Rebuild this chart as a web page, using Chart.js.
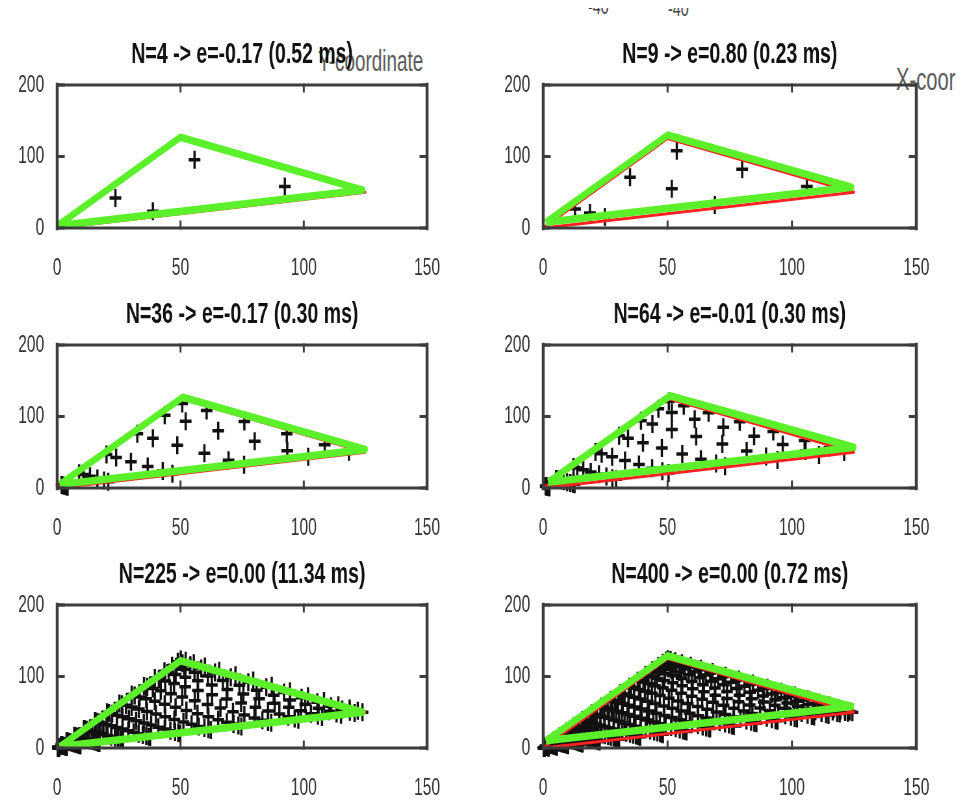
<!DOCTYPE html>
<html>
<head>
<meta charset="utf-8">
<script src="https://cdn.jsdelivr.net/npm/chart.js@4.4.1/dist/chart.umd.min.js"></script>
<style>
    html, body { margin: 0; padding: 0; background: #fff; }
    body { width: 977px; height: 805px; overflow: hidden; position: relative; font-family: 'Liberation Sans', Arial, sans-serif; }
    .panel { position: absolute; transform: scaleX(0.65); transform-origin: 0 0; }
    .ghost { position: absolute; color: #5c5c5c; white-space: nowrap; transform: scaleX(0.65); transform-origin: 0 0; }
    .clip { position: absolute; overflow: hidden; }
</style>
</head>
<body>
<div class="ghost" style="left:318px; top:45px; font-size:29px;">Y-coordinate</div>
<div class="clip" style="left:896px; top:62px; width:60px; height:32px;"><div class="ghost" style="left:0; top:0; font-size:31px;">X-coordinate</div></div>
<div class="clip" style="left:580px; top:8px; width:120px; height:13px;">
    <div class="ghost" style="left:8px; top:-14px; font-size:22px; color:#444;">-40</div>
    <div class="ghost" style="left:88px; top:-12px; font-size:22px; color:#444;">-40</div>
</div>
<script>
    'use strict';

    // axis ticks (same for every panel)
    var xTicks = [0, 50, 100, 150];
    var yTicks = [0, 100, 200];

    var titles = [
        'N=4 -> e=-0.17 (0.52 ms)',
        'N=9 -> e=0.80 (0.23 ms)',
        'N=36 -> e=-0.17 (0.30 ms)',
        'N=64 -> e=-0.01 (0.30 ms)',
        'N=225 -> e=0.00 (11.34 ms)',
        'N=400 -> e=0.00 (0.72 ms)'
    ];

    // exact triangle (red) and fitted triangles (green)
    var exactTri = [[0, 0], [50, 125], [125, 50], [0, 0]];
    var green4 = [[0, 3], [50, 127], [124, 53], [0, 3]];
    var green9 = [[1, 8], [50, 130], [124, 57], [1, 8]];
    var green36 = [[1, 5], [51, 127], [125, 54], [1, 5]];
    var green64 = [[2, 8], [51, 129], [125, 57], [2, 8]];
    var green225 = [[1, 2], [50, 122], [124, 50], [1, 2]];
    var green400 = [[1, 10], [50, 129], [124, 58], [1, 10]];

    // sample points
    var pts4 = [[23.6, 41.9], [38.8, 23.3], [55.7, 95.3], [92.3, 58.1]];

    var pts9 = [[12.8, 26.5], [18.8, 21], [24.8, 15.3], [34.9, 71], [53.7, 108], [51.7, 55], [69, 32], [80, 82], [106, 58]];

    var pts36 = [
        [4.2, 1.8], [20.7, 8.9], [46.7, 20.0], [75.8, 32.5], [101.8, 43.6], [118.3, 50.7],
        [3.8, 2.1], [19.0, 10.6], [42.8, 23.9], [69.5, 38.8], [93.3, 52.1], [108.5, 60.6],
        [3.3, 2.7], [16.3, 13.3], [36.7, 29.9], [59.7, 48.7], [80.1, 65.3], [93.1, 75.9],
        [2.7, 3.3], [13.3, 16.3], [29.9, 36.7], [48.7, 59.7], [65.3, 80.1], [75.9, 93.1],
        [2.1, 3.8], [10.6, 19.0], [23.9, 42.8], [38.8, 69.5], [52.1, 93.3], [60.6, 108.5],
        [1.8, 4.2], [8.9, 20.7], [20.0, 46.7], [32.5, 75.8], [43.6, 101.8], [50.7, 118.3]
    ];

    var pts64 = [
        [2.5, 1.0], [12.6, 5.2], [29.3, 12.2], [50.4, 21.0], [73.1, 30.5], [94.2, 39.3], [110.9, 46.3], [121.0, 50.5],
        [2.3, 1.1], [11.9, 5.9], [27.8, 13.7], [47.9, 23.5], [69.5, 34.1], [89.6, 43.9], [105.5, 51.7], [115.1, 56.5],
        [2.1, 1.3], [10.9, 6.9], [25.4, 16.1], [43.8, 27.7], [63.4, 40.1], [81.8, 51.7], [96.3, 60.9], [105.1, 66.5],
        [1.9, 1.6], [9.6, 8.2], [22.4, 19.1], [38.5, 32.9], [55.9, 47.7], [72.0, 61.5], [84.8, 72.4], [92.5, 79.0],
        [1.6, 1.9], [8.2, 9.6], [19.1, 22.4], [32.9, 38.5], [47.7, 55.9], [61.5, 72.0], [72.4, 84.8], [79.0, 92.5],
        [1.3, 2.1], [6.9, 10.9], [16.1, 25.4], [27.7, 43.8], [40.1, 63.4], [51.7, 81.8], [60.9, 96.3], [66.5, 105.1],
        [1.1, 2.3], [5.9, 11.9], [13.7, 27.8], [23.5, 47.9], [34.1, 69.5], [43.9, 89.6], [51.7, 105.5], [56.5, 115.1],
        [1.0, 2.5], [5.2, 12.6], [12.2, 29.3], [21.0, 50.4], [30.5, 73.1], [39.3, 94.2], [46.3, 110.9], [50.5, 121.0]
    ];

    var pts225 = [
        [0.7, 0.3], [3.9, 1.6], [9.4, 3.8], [17.1, 6.9], [26.7, 10.8], [37.7, 15.3], [49.9, 20.2], [62.3, 25.2], [74.7, 30.2], [86.8, 35.2], [97.8, 39.6], [107.4, 43.5], [115.1, 46.6], [120.6, 48.9], [123.8, 50.1],
        [0.7, 0.3], [3.8, 1.6], [9.3, 4.0], [16.9, 7.2], [26.3, 11.2], [37.1, 15.9], [49.1, 21.0], [61.3, 26.2], [73.5, 31.4], [85.5, 36.5], [96.3, 41.2], [105.7, 45.2], [113.3, 48.4], [118.7, 50.8], [121.9, 52.1],
        [0.7, 0.3], [3.7, 1.7], [9.0, 4.2], [16.4, 7.7], [25.6, 11.9], [36.1, 16.9], [47.8, 22.3], [59.7, 27.9], [71.5, 33.4], [83.2, 38.8], [93.7, 43.8], [102.9, 48.0], [110.3, 51.5], [115.6, 54.0], [118.6, 55.4],
        [0.7, 0.4], [3.6, 1.9], [8.7, 4.6], [15.8, 8.3], [24.6, 12.9], [34.7, 18.3], [45.9, 24.2], [57.4, 30.2], [68.8, 36.1], [80.0, 42.0], [90.1, 47.4], [98.9, 52.0], [106.0, 55.7], [111.1, 58.4], [114.0, 59.9],
        [0.7, 0.4], [3.4, 2.1], [8.3, 5.0], [15.0, 9.1], [23.4, 14.2], [33.0, 20.0], [43.6, 26.5], [54.5, 33.1], [65.3, 39.6], [75.9, 46.1], [85.5, 51.9], [93.9, 57.0], [100.6, 61.1], [105.5, 64.0], [108.2, 65.7],
        [0.6, 0.4], [3.2, 2.3], [7.8, 5.5], [14.1, 10.0], [21.9, 15.6], [31.0, 22.0], [41.0, 29.1], [51.2, 36.4], [61.3, 43.6], [71.3, 50.7], [80.4, 57.1], [88.2, 62.7], [94.5, 67.2], [99.1, 70.4], [101.7, 72.3],
        [0.6, 0.5], [3.0, 2.5], [7.2, 6.1], [13.1, 11.0], [20.4, 17.2], [28.8, 24.2], [38.1, 32.0], [47.5, 40.0], [56.9, 48.0], [66.2, 55.8], [74.6, 62.8], [81.9, 69.0], [87.8, 73.9], [92.0, 77.5], [94.4, 79.5],
        [0.5, 0.5], [2.7, 2.7], [6.6, 6.6], [12.0, 12.0], [18.8, 18.8], [26.5, 26.5], [35.1, 35.1], [43.8, 43.8], [52.4, 52.4], [61.0, 61.0], [68.7, 68.7], [75.5, 75.5], [80.9, 80.9], [84.8, 84.8], [87.0, 87.0],
        [0.5, 0.6], [2.5, 3.0], [6.1, 7.2], [11.0, 13.1], [17.2, 20.4], [24.2, 28.8], [32.0, 38.1], [40.0, 47.5], [48.0, 56.9], [55.8, 66.2], [62.8, 74.6], [69.0, 81.9], [73.9, 87.8], [77.5, 92.0], [79.5, 94.4],
        [0.4, 0.6], [2.3, 3.2], [5.5, 7.8], [10.0, 14.1], [15.6, 21.9], [22.0, 31.0], [29.1, 41.0], [36.4, 51.2], [43.6, 61.3], [50.7, 71.3], [57.1, 80.4], [62.7, 88.2], [67.2, 94.5], [70.4, 99.1], [72.3, 101.7],
        [0.4, 0.7], [2.1, 3.4], [5.0, 8.3], [9.1, 15.0], [14.2, 23.4], [20.0, 33.0], [26.5, 43.6], [33.1, 54.5], [39.6, 65.3], [46.1, 75.9], [51.9, 85.5], [57.0, 93.9], [61.1, 100.6], [64.0, 105.5], [65.7, 108.2],
        [0.4, 0.7], [1.9, 3.6], [4.6, 8.7], [8.3, 15.8], [12.9, 24.6], [18.3, 34.7], [24.2, 45.9], [30.2, 57.4], [36.1, 68.8], [42.0, 80.0], [47.4, 90.1], [52.0, 98.9], [55.7, 106.0], [58.4, 111.1], [59.9, 114.0],
        [0.3, 0.7], [1.7, 3.7], [4.2, 9.0], [7.7, 16.4], [11.9, 25.6], [16.9, 36.1], [22.3, 47.8], [27.9, 59.7], [33.4, 71.5], [38.8, 83.2], [43.8, 93.7], [48.0, 102.9], [51.5, 110.3], [54.0, 115.6], [55.4, 118.6],
        [0.3, 0.7], [1.6, 3.8], [4.0, 9.3], [7.2, 16.9], [11.2, 26.3], [15.9, 37.1], [21.0, 49.1], [26.2, 61.3], [31.4, 73.5], [36.5, 85.5], [41.2, 96.3], [45.2, 105.7], [48.4, 113.3], [50.8, 118.7], [52.1, 121.9],
        [0.3, 0.7], [1.6, 3.9], [3.8, 9.4], [6.9, 17.1], [10.8, 26.7], [15.3, 37.7], [20.2, 49.9], [25.2, 62.3], [30.2, 74.7], [35.2, 86.8], [39.6, 97.8], [43.5, 107.4], [46.6, 115.1], [48.9, 120.6], [50.1, 123.8]
    ];

    var pts400 = [
        [0.4, 0.2], [2.2, 0.9], [5.5, 2.2], [10.0, 4.0], [15.8, 6.4], [22.7, 9.2], [30.5, 12.3], [39.0, 15.7], [48.1, 19.4], [57.6, 23.2], [67.1, 27.1], [76.6, 30.9], [85.7, 34.6], [94.2, 38.0], [102.0, 41.1], [108.9, 43.9], [114.7, 46.3], [119.2, 48.1], [122.5, 49.4], [124.3, 50.1],
        [0.4, 0.2], [2.2, 0.9], [5.4, 2.3], [9.9, 4.1], [15.7, 6.5], [22.5, 9.3], [30.2, 12.6], [38.7, 16.1], [47.7, 19.8], [57.1, 23.7], [66.6, 27.6], [75.9, 31.5], [84.9, 35.3], [93.4, 38.8], [101.1, 42.0], [108.0, 44.8], [113.7, 47.2], [118.2, 49.1], [121.4, 50.4], [123.2, 51.2],
        [0.4, 0.2], [2.2, 1.0], [5.3, 2.3], [9.8, 4.3], [15.4, 6.8], [22.1, 9.7], [29.8, 13.0], [38.1, 16.7], [47.0, 20.6], [56.2, 24.6], [65.5, 28.7], [74.7, 32.7], [83.6, 36.6], [91.9, 40.3], [99.6, 43.6], [106.3, 46.5], [111.9, 49.0], [116.4, 51.0], [119.5, 52.3], [121.3, 53.1],
        [0.4, 0.2], [2.1, 1.0], [5.2, 2.5], [9.6, 4.5], [15.1, 7.1], [21.7, 10.2], [29.1, 13.7], [37.3, 17.5], [45.9, 21.6], [54.9, 25.9], [64.1, 30.1], [73.1, 34.4], [81.7, 38.5], [89.9, 42.3], [97.3, 45.8], [103.9, 48.9], [109.4, 51.5], [113.8, 53.5], [116.9, 55.0], [118.6, 55.8],
        [0.4, 0.2], [2.1, 1.1], [5.1, 2.6], [9.3, 4.8], [14.6, 7.5], [21.0, 10.8], [28.3, 14.6], [36.2, 18.6], [44.6, 23.0], [53.3, 27.5], [62.2, 32.0], [70.9, 36.5], [79.3, 40.9], [87.2, 44.9], [94.5, 48.7], [100.9, 52.0], [106.2, 54.7], [110.4, 56.9], [113.4, 58.4], [115.1, 59.3],
        [0.4, 0.2], [2.0, 1.1], [4.9, 2.8], [9.0, 5.1], [14.1, 8.1], [20.3, 11.6], [27.2, 15.6], [34.9, 19.9], [43.0, 24.6], [51.4, 29.4], [59.9, 34.3], [68.4, 39.1], [76.5, 43.7], [84.1, 48.1], [91.1, 52.1], [97.2, 55.6], [102.4, 58.5], [106.5, 60.9], [109.3, 62.5], [111.0, 63.4],
        [0.4, 0.2], [1.9, 1.2], [4.7, 3.0], [8.6, 5.5], [13.5, 8.7], [19.4, 12.4], [26.1, 16.7], [33.4, 21.4], [41.2, 26.4], [49.2, 31.6], [57.4, 36.8], [65.5, 42.0], [73.3, 46.9], [80.6, 51.6], [87.2, 55.9], [93.1, 59.7], [98.1, 62.9], [102.0, 65.3], [104.7, 67.1], [106.3, 68.1],
        [0.3, 0.2], [1.8, 1.3], [4.5, 3.2], [8.2, 5.9], [12.9, 9.3], [18.5, 13.4], [24.8, 18.0], [31.8, 23.0], [39.2, 28.4], [46.9, 33.9], [54.6, 39.6], [62.3, 45.1], [69.7, 50.5], [76.7, 55.5], [83.0, 60.1], [88.6, 64.2], [93.3, 67.6], [97.0, 70.3], [99.7, 72.2], [101.2, 73.3],
        [0.3, 0.3], [1.7, 1.4], [4.2, 3.5], [7.7, 6.4], [12.2, 10.0], [17.5, 14.4], [23.5, 19.3], [30.1, 24.7], [37.1, 30.5], [44.3, 36.5], [51.7, 42.5], [58.9, 48.5], [65.9, 54.3], [72.5, 59.7], [78.5, 64.6], [83.8, 69.0], [88.3, 72.6], [91.8, 75.5], [94.3, 77.6], [95.7, 78.7],
        [0.3, 0.3], [1.6, 1.5], [4.0, 3.7], [7.3, 6.8], [11.5, 10.7], [16.5, 15.4], [22.1, 20.7], [28.3, 26.5], [34.9, 32.7], [41.7, 39.1], [48.7, 45.5], [55.5, 51.9], [62.1, 58.1], [68.3, 63.9], [73.9, 69.2], [78.9, 73.9], [83.1, 77.8], [86.4, 80.9], [88.8, 83.1], [90.1, 84.3],
        [0.3, 0.3], [1.5, 1.6], [3.7, 4.0], [6.8, 7.3], [10.7, 11.5], [15.4, 16.5], [20.7, 22.1], [26.5, 28.3], [32.7, 34.9], [39.1, 41.7], [45.5, 48.7], [51.9, 55.5], [58.1, 62.1], [63.9, 68.3], [69.2, 73.9], [73.9, 78.9], [77.8, 83.1], [80.9, 86.4], [83.1, 88.8], [84.3, 90.1],
        [0.3, 0.3], [1.4, 1.7], [3.5, 4.2], [6.4, 7.7], [10.0, 12.2], [14.4, 17.5], [19.3, 23.5], [24.7, 30.1], [30.5, 37.1], [36.5, 44.3], [42.5, 51.7], [48.5, 58.9], [54.3, 65.9], [59.7, 72.5], [64.6, 78.5], [69.0, 83.8], [72.6, 88.3], [75.5, 91.8], [77.6, 94.3], [78.7, 95.7],
        [0.2, 0.3], [1.3, 1.8], [3.2, 4.5], [5.9, 8.2], [9.3, 12.9], [13.4, 18.5], [18.0, 24.8], [23.0, 31.8], [28.4, 39.2], [33.9, 46.9], [39.6, 54.6], [45.1, 62.3], [50.5, 69.7], [55.5, 76.7], [60.1, 83.0], [64.2, 88.6], [67.6, 93.3], [70.3, 97.0], [72.2, 99.7], [73.3, 101.2],
        [0.2, 0.4], [1.2, 1.9], [3.0, 4.7], [5.5, 8.6], [8.7, 13.5], [12.4, 19.4], [16.7, 26.1], [21.4, 33.4], [26.4, 41.2], [31.6, 49.2], [36.8, 57.4], [42.0, 65.5], [46.9, 73.3], [51.6, 80.6], [55.9, 87.2], [59.7, 93.1], [62.9, 98.1], [65.3, 102.0], [67.1, 104.7], [68.1, 106.3],
        [0.2, 0.4], [1.1, 2.0], [2.8, 4.9], [5.1, 9.0], [8.1, 14.1], [11.6, 20.3], [15.6, 27.2], [19.9, 34.9], [24.6, 43.0], [29.4, 51.4], [34.3, 59.9], [39.1, 68.4], [43.7, 76.5], [48.1, 84.1], [52.1, 91.1], [55.6, 97.2], [58.5, 102.4], [60.9, 106.5], [62.5, 109.3], [63.4, 111.0],
        [0.2, 0.4], [1.1, 2.1], [2.6, 5.1], [4.8, 9.3], [7.5, 14.6], [10.8, 21.0], [14.6, 28.3], [18.6, 36.2], [23.0, 44.6], [27.5, 53.3], [32.0, 62.2], [36.5, 70.9], [40.9, 79.3], [44.9, 87.2], [48.7, 94.5], [52.0, 100.9], [54.7, 106.2], [56.9, 110.4], [58.4, 113.4], [59.3, 115.1],
        [0.2, 0.4], [1.0, 2.1], [2.5, 5.2], [4.5, 9.6], [7.1, 15.1], [10.2, 21.7], [13.7, 29.1], [17.5, 37.3], [21.6, 45.9], [25.9, 54.9], [30.1, 64.1], [34.4, 73.1], [38.5, 81.7], [42.3, 89.9], [45.8, 97.3], [48.9, 103.9], [51.5, 109.4], [53.5, 113.8], [55.0, 116.9], [55.8, 118.6],
        [0.2, 0.4], [1.0, 2.2], [2.3, 5.3], [4.3, 9.8], [6.8, 15.4], [9.7, 22.1], [13.0, 29.8], [16.7, 38.1], [20.6, 47.0], [24.6, 56.2], [28.7, 65.5], [32.7, 74.7], [36.6, 83.6], [40.3, 91.9], [43.6, 99.6], [46.5, 106.3], [49.0, 111.9], [51.0, 116.4], [52.3, 119.5], [53.1, 121.3],
        [0.2, 0.4], [0.9, 2.2], [2.3, 5.4], [4.1, 9.9], [6.5, 15.7], [9.3, 22.5], [12.6, 30.2], [16.1, 38.7], [19.8, 47.7], [23.7, 57.1], [27.6, 66.6], [31.5, 75.9], [35.3, 84.9], [38.8, 93.4], [42.0, 101.1], [44.8, 108.0], [47.2, 113.7], [49.1, 118.2], [50.4, 121.4], [51.2, 123.2],
        [0.2, 0.4], [0.9, 2.2], [2.2, 5.5], [4.0, 10.0], [6.4, 15.8], [9.2, 22.7], [12.3, 30.5], [15.7, 39.0], [19.4, 48.1], [23.2, 57.6], [27.1, 67.1], [30.9, 76.6], [34.6, 85.7], [38.0, 94.2], [41.1, 102.0], [43.9, 108.9], [46.3, 114.7], [48.1, 119.2], [49.4, 122.5], [50.1, 124.3]
    ];

    Chart.defaults.font.family = "'Liberation Sans', Arial, sans-serif";

    var AXIS_W = 88;      // y axis band on each side (unsqueezed px)
    var TOP_H = 60;       // title band
    var BOTTOM_H = 60;    // x tick band
    var PLOT_H = 143;

    var toXY = function (arr) {
        return arr.map(function (p) { return { x: p[0], y: p[1] }; });
    };

    // MATLAB style box with inward ticks on all four sides
    var boxPlugin = {
        id: 'matlabBox',
        afterDatasetsDraw: function (chart) {
            var a = chart.chartArea;
            var ctx = chart.ctx;
            var sx = chart.scales.x;
            var sy = chart.scales.y;
            ctx.save();
            ctx.strokeStyle = '#3c3c3c';
            ctx.lineCap = 'square';
            ctx.lineWidth = 3;
            ctx.beginPath();
            ctx.moveTo(a.left, a.top); ctx.lineTo(a.right, a.top);
            ctx.moveTo(a.left, a.bottom); ctx.lineTo(a.right, a.bottom);
            ctx.stroke();
            ctx.lineWidth = 4.5;
            ctx.beginPath();
            ctx.moveTo(a.left, a.top); ctx.lineTo(a.left, a.bottom);
            ctx.moveTo(a.right, a.top); ctx.lineTo(a.right, a.bottom);
            ctx.stroke();
            ctx.lineWidth = 3;
            ctx.beginPath();
            xTicks.forEach(function (v) {
                var px = sx.getPixelForValue(v);
                ctx.moveTo(px, a.bottom); ctx.lineTo(px, a.bottom - 6);
                ctx.moveTo(px, a.top); ctx.lineTo(px, a.top + 6);
            });
            yTicks.forEach(function (v) {
                var py = sy.getPixelForValue(v);
                ctx.moveTo(a.left, py); ctx.lineTo(a.left + 10, py);
                ctx.moveTo(a.right, py); ctx.lineTo(a.right - 10, py);
            });
            ctx.stroke();
            ctx.restore();
        }
    };

    var panels = [
        { left: 0, top: 25, plotW: 569, title: titles[0], pts: pts4, green: green4 },
        { left: 486, top: 25, plotW: 574, title: titles[1], pts: pts9, green: green9 },
        { left: 0, top: 285, plotW: 569, title: titles[2], pts: pts36, green: green36 },
        { left: 486, top: 285, plotW: 574, title: titles[3], pts: pts64, green: green64 },
        { left: 0, top: 545, plotW: 569, title: titles[4], pts: pts225, green: green225 },
        { left: 486, top: 545, plotW: 574, title: titles[5], pts: pts400, green: green400 }
    ];

    panels.forEach(function (p) {
        var w = AXIS_W + p.plotW + AXIS_W;
        var h = TOP_H + PLOT_H + BOTTOM_H;
        var canvas = document.createElement('canvas');
        canvas.className = 'panel';
        canvas.width = w;
        canvas.height = h;
        canvas.style.width = w + 'px';
        canvas.style.height = h + 'px';
        canvas.style.left = p.left + 'px';
        canvas.style.top = p.top + 'px';
        document.body.appendChild(canvas);

        new Chart(canvas, {
            type: 'scatter',
            data: {
                datasets: [
                    {
                        data: toXY(p.green),
                        showLine: true,
                        borderColor: '#5cf02b',
                        borderWidth: 7.5,
                        borderJoinStyle: 'round',
                        pointRadius: 0,
                        order: 0
                    },
                    {
                        data: toXY(exactTri),
                        showLine: true,
                        borderColor: '#ff2222',
                        borderWidth: 3,
                        borderJoinStyle: 'round',
                        pointRadius: 0,
                        order: 1
                    },
                    {
                        data: toXY(p.pts),
                        pointStyle: 'cross',
                        pointRadius: 9,
                        pointBorderColor: '#111',
                        pointBorderWidth: 3.5,
                        borderColor: '#111',
                        clip: false,
                        order: 2
                    }
                ]
            },
            options: {
                responsive: false,
                animation: false,
                devicePixelRatio: 1,
                events: [],
                layout: { padding: 0 },
                plugins: {
                    legend: { display: false },
                    tooltip: { enabled: false },
                    title: {
                        display: true,
                        text: p.title,
                        color: '#111',
                        font: { size: 30, weight: 'bold', lineHeight: 1.2 },
                        padding: { top: 12, bottom: 12 }
                    }
                },
                scales: {
                    x: {
                        type: 'linear',
                        min: 0,
                        max: 150,
                        afterBuildTicks: function (s) { s.ticks = xTicks.map(function (v) { return { value: v }; }); },
                        afterFit: function (s) { s.height = BOTTOM_H; },
                        grid: { display: false, drawTicks: false },
                        border: { display: false },
                        ticks: { padding: 26, color: '#333', font: { size: 24 }, maxRotation: 0 }
                    },
                    y: {
                        type: 'linear',
                        min: 0,
                        max: 200,
                        afterBuildTicks: function (s) { s.ticks = yTicks.map(function (v) { return { value: v }; }); },
                        afterFit: function (s) { s.width = AXIS_W; },
                        grid: { display: false, drawTicks: false },
                        border: { display: false },
                        ticks: { padding: 20, color: '#333', font: { size: 24 } }
                    },
                    // empty band on the right so the box is centred under the title
                    y2: {
                        type: 'linear',
                        position: 'right',
                        min: 0,
                        max: 200,
                        afterFit: function (s) { s.width = AXIS_W; },
                        grid: { display: false, drawTicks: false },
                        border: { display: false },
                        ticks: { display: false }
                    }
                }
            },
            plugins: [boxPlugin]
        });
    });
</script>
</body>
</html>
